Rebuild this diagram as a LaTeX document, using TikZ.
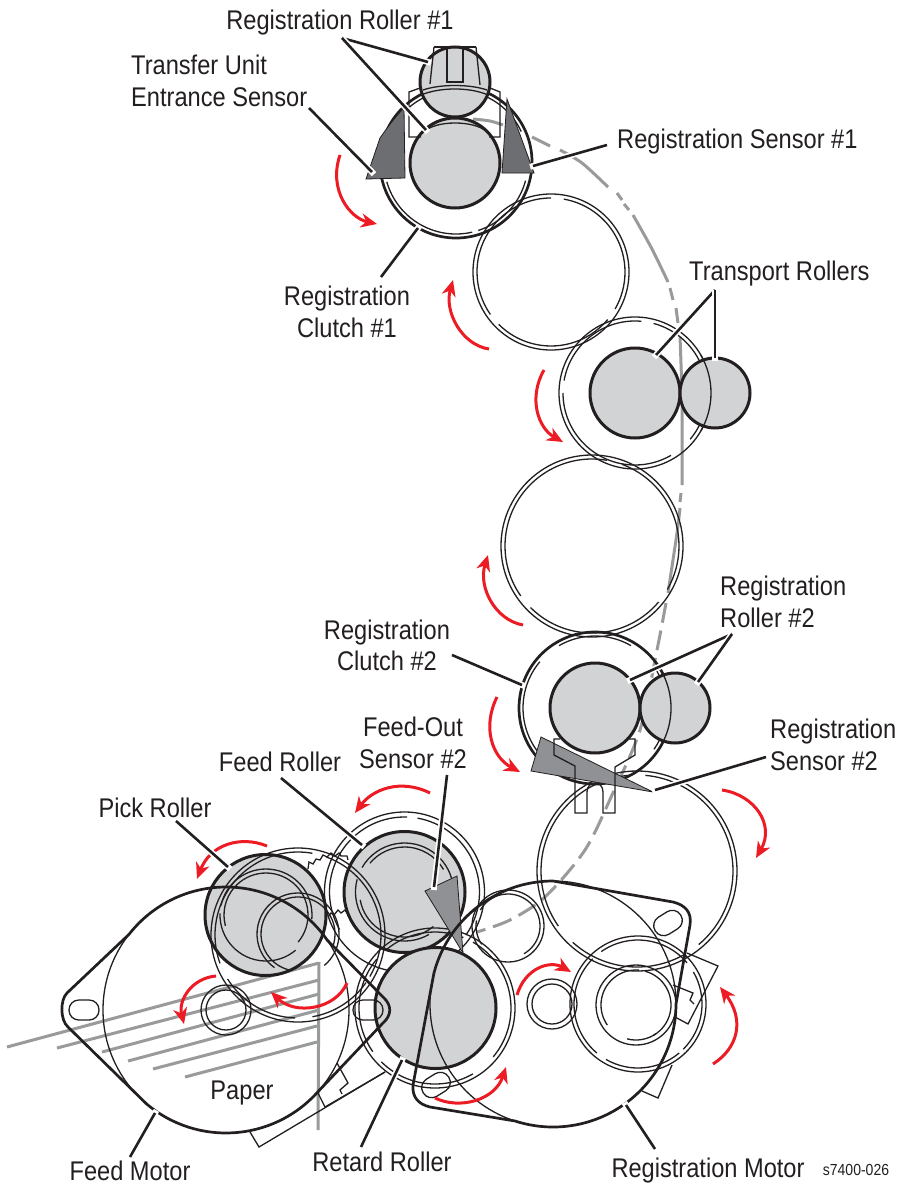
\documentclass[tikz,border=0pt]{standalone}
\usepackage{fontspec}
\setmainfont{Liberation Sans}[FakeStretch=0.875]
\usetikzlibrary{arrows.meta}
\definecolor{ink}{HTML}{231F20}
\definecolor{rollerfill}{HTML}{D1D3D4}
\definecolor{sensordark}{HTML}{6D6E71}
\definecolor{sensormid}{HTML}{8F9194}
\definecolor{pathgray}{HTML}{999A9C}
\definecolor{arrowred}{HTML}{ED1C24}
\tikzset{
  thinl/.style={draw=ink,line width=1.3pt},
  thickl/.style={draw=ink,line width=2.7pt},
  roller/.style={draw=ink,fill=rollerfill,line width=3pt},
  grayl/.style={draw=pathgray,line width=3pt},
  leader/.style={preaction={draw=white,line width=6pt,shorten >=-3pt},draw=ink,line width=2.6pt},
  redarrow/.style={draw=arrowred,line width=3pt,-{Stealth[length=16pt,width=14pt,inset=5pt]}},
  lab/.style={font=\fontsize{27}{31.5}\selectfont,text=ink,inner sep=0pt,align=center}
}
\newcommand\ringat[3]{\draw[thinl] (#1,-#2) circle (#3);}
\newcommand\garc[5]{\draw[thinl] ([shift={(#1,-#2)}]#4:#3) arc (#4:#5:#3);}
\newcommand\rollerat[3]{\draw[roller] (#1,-#2) circle (#3);}
\newcommand\holeat[3]{\draw[thinl,rounded corners=9.8pt,shift={(#1,-#2)},rotate=#3] (-15,-10) rectangle (15,10);}
\begin{document}
\begin{tikzpicture}[x=1pt,y=1pt]
\useasboundingbox (0,0) rectangle (908,-1188);
\fill[white] (0,0) rectangle (908,-1188);

% paper path
\draw[grayl] plot[smooth] coordinates {(473,-119) (490,-121) (503,-125)};
\draw[grayl] (532,-137) -- (550,-146);
\draw[grayl] plot[smooth] coordinates {(560,-150) (582,-163) (608,-187)};
\draw[grayl] (617,-193) -- (622,-200);
\draw[grayl] (624,-204) -- (629,-210);
\draw[grayl] plot[smooth] coordinates {(633,-215) (652,-249) (668,-282)};
\draw[grayl] (670,-288) -- (673,-300);
\draw[grayl] (676,-308) -- (678,-323);
\draw[grayl] plot[smooth] coordinates {(680,-337) (682,-400) (682,-485)};
\draw[grayl] (681,-493) -- (680,-502);
\draw[grayl] plot[smooth] coordinates {(680,-508) (677,-533) (668,-593)};
\draw[grayl,dash pattern=on 20pt off 8pt] plot[smooth] coordinates {(666,-603) (657,-650) (640,-730) (612,-795) (585,-850) (545,-897) (510,-920) (477,-932)};

% paper stack
\draw[grayl] (319,-962) -- (318,-1130);
\draw[grayl] (7,-1047) -- (319,-963);
\draw[grayl] (57,-1048) -- (319,-980);
\draw[grayl] (102,-1052) -- (319,-994);
\draw[grayl] (128,-1061) -- (319,-1010);
\draw[grayl] (153,-1069) -- (317,-1026);
\draw[grayl] (185,-1077) -- (317,-1042);

% --- top assembly ---
\draw[thickl] (456,-162) circle (76);
\garc{456}{162}{72}{196}{283}
\garc{456}{162}{72}{288}{345}
\garc{456}{162}{72}{25}{75}
\garc{456}{162}{72}{105}{135}
\rollerat{455}{163}{45}
\rollerat{455}{82}{35}
\draw[thinl] (434,-47) -- (476,-47);
\draw[thinl] (434,-47) -- (430,-84);
\draw[thinl] (476,-47) -- (480,-85);
\draw[thinl] (447,-47) -- (447,-82) -- (463,-82) -- (463,-47);
\draw[thinl] (421,-95) .. controls (440,-87) and (470,-87) .. (488,-95);
\draw[thinl] (423,-90) .. controls (440,-84) and (470,-84) .. (487,-90);
\draw[thinl] (420,-88) -- (409,-92) -- (409,-137) -- (421,-137);
\draw[thinl] (490,-88) -- (500,-92) -- (500,-137) -- (489,-137);
\draw[thinl] (424,-132) .. controls (435,-120) and (475,-120) .. (487,-132);
\fill[sensordark,draw=ink,line width=0.8pt] (404,-108) -- (405,-178) -- (366,-179) -- (380,-138) .. controls (387,-128) and (395,-117) .. (404,-108) -- cycle;
\fill[sensordark,draw=ink,line width=0.8pt] (507,-99) -- (534,-173) -- (502,-173) -- cycle;

% --- idlers ---
\ringat{551}{272}{78}
\garc{551}{272}{74}{-30}{80}
\garc{551}{272}{74}{90}{215}
\garc{551}{272}{74}{225}{320}
\ringat{635}{393}{76}
\garc{635}{393}{72}{-40}{75}
\garc{635}{393}{72}{85}{170}
\garc{635}{393}{72}{180}{300}
\rollerat{635}{393}{45}
\rollerat{715}{393}{35}
\draw[thinl] ([shift={(635,-393)}]30:76) arc (30:-30:76);
\ringat{592}{546}{91}
\garc{592}{546}{87}{-30}{70}
\garc{592}{546}{87}{80}{215}
\garc{592}{546}{87}{225}{320}

% --- registration roller 2 ---
\draw[thickl] (595,-708) circle (76);
\garc{595}{708}{72}{-35}{35}
\garc{595}{708}{72}{60}{120}
\garc{595}{708}{72}{140}{225}
\ringat{637}{871}{100}
\garc{637}{871}{96}{-50}{85}
\garc{637}{871}{96}{95}{215}
\garc{637}{871}{96}{228}{300}
\rollerat{595}{708}{45}
\rollerat{675}{708}{35}
\draw[thinl] ([shift={(595,-708)}]62:76) arc (62:-62:76);
\fill[sensormid,draw=ink,line width=0.8pt] (541,-737) -- (653,-792) -- (531,-771) -- cycle;
\draw[thinl] (560,-739) -- (554,-739) -- (554,-755) -- (575,-766) -- (575,-813) -- (587,-813) -- (587,-792) .. controls (587,-780) and (603,-780) .. (603,-792) -- (603,-813) -- (615,-813) -- (615,-767) -- (635,-755) -- (635,-739) -- (629,-739);

% --- bottom-left rollers ---
\fill[rollerfill] (265.5,-915) circle (60.5);
\fill[rollerfill] (404.5,-892) circle (60.5);
\ringat{404.5}{892}{80}
\garc{404.5}{892}{75}{-35}{80}
\garc{404.5}{892}{75}{88}{210}
\garc{404.5}{892}{49}{10}{150}
\garc{404.5}{892}{49}{165}{300}
\garc{404.5}{892}{45}{30}{140}
\garc{404.5}{892}{45}{190}{310}
\draw[thinl] (298,-935) circle (87);
\garc{298}{935}{83}{-30}{70}
\garc{298}{935}{83}{80}{200}
\garc{298}{935}{83}{212}{268}
\garc{298}{935}{83}{280}{325}
\garc{266}{915}{46}{-5}{168}
\garc{266}{915}{46}{178}{310}
\garc{266}{915}{42}{-40}{195}
\garc{298}{934}{41}{-50}{235}
\garc{298}{934}{37}{-20}{260}
\draw[thinl] (308,-869) -- (309,-862) -- (313,-864) -- (316,-859) -- (320,-860) -- (323,-855) -- (327,-857) -- (331,-853) -- (335,-856) -- (339,-853) -- (341,-856) -- (347,-856) -- (348,-860);
\draw[thinl] (328,-917) -- (331,-913) -- (334,-915) -- (338,-910) -- (341,-913) -- (345,-910) -- (347,-913);
\draw[roller,fill=none] (265.5,-915) circle (60.5);
\draw[roller,fill=none] (404.5,-892) circle (60.5);
\draw[thinl] (226,-1010) circle (25);
\draw[thinl] (226,-1010) circle (20);

% --- retard roller ---
\ringat{435}{1008}{80}
\garc{435}{1008}{76}{-40}{60}
\garc{435}{1008}{76}{68}{130}
\garc{435}{1008}{76}{140}{215}
\garc{435}{1008}{76}{225}{300}
\ringat{508}{926}{36}
\garc{508}{926}{32}{-60}{150}
\garc{508}{926}{32}{170}{215}
\rollerat{435.5}{1008}{60.5}
\fill[sensormid,draw=ink,line width=0.8pt] (425,-891) -- (457,-876) -- (463,-953) -- cycle;

% --- right gear ---
\draw[thinl] (552,-1004) circle (25);
\draw[thinl] (552,-1004) circle (20);
\ringat{638}{1004}{68}
\garc{638}{1004}{64}{-45}{30}
\garc{638}{1004}{64}{40}{125}
\garc{638}{1004}{64}{135}{230}
\garc{638}{1004}{64}{240}{310}
\ringat{636}{1005}{40}
\garc{636}{1005}{35}{-60}{75}
\garc{636}{1005}{35}{85}{215}
\garc{636}{1005}{35}{255}{305}
\draw[thinl] (687,-953) -- (718,-966) -- (688,-1024) -- (675,-1017);
\draw[thinl] (673,-985) -- (693,-993) -- (690,-1000) -- (694,-1004);
\draw[thinl] (642,-1091) -- (658,-1098) -- (672,-1065);

% --- left bracket ---
\draw[thinl] (250,-1132) -- (259,-1147) -- (385,-1072);
\draw[thinl] (325,-1107) -- (385,-1072);
\draw[thinl] (318,-1093) -- (325,-1107);
\draw[thinl] (337,-1063) -- (348,-1083) -- (340,-1090) -- (342,-1094);

% --- motors ---
\draw[thinl] (226,-1010) circle (123);
\draw[thickl] ([shift={(226,-1010)}]34.7:123) arc (34.7:142:123) -- (67,-993) .. controls (60,-1000) and (60,-1020) .. (68,-1027) -- ([shift={(226,-1010)}]229.7:123) arc (229.7:317.6:123) -- (383,-1023) .. controls (392,-1015) and (392,-1005) .. (383,-997) -- cycle;
\holeat{84}{1010}{0}
\holeat{368}{1010}{0}
\draw[thinl] (553,-1004) circle (123);
\draw[thickl] ([shift={(553,-1004)}]165.6:123) arc (165.6:90:123) -- (673,-902) .. controls (685,-905) and (692,-912) .. (690,-925) -- ([shift={(553,-1004)}]0:123) arc (0:-108:123) -- (430,-1107) .. controls (418,-1104) and (412,-1097) .. (413,-1085) -- cycle;
\holeat{668}{923}{32}
\holeat{436}{1085}{32}

% --- red arrows ---
\draw[redarrow] (340,-155) .. controls (328,-190) and (350,-218) .. (377,-224);
\draw[redarrow] (489,-349) .. controls (462,-345) and (444,-312) .. (453,-280);
\draw[redarrow] (544,-370) .. controls (528,-398) and (538,-428) .. (563,-442);
\draw[redarrow] (523,-625) .. controls (495,-620) and (478,-587) .. (488,-555);
\draw[redarrow] (497,-697) .. controls (482,-727) and (492,-757) .. (520,-772);
\draw[redarrow] (722,-790) .. controls (755,-795) and (775,-825) .. (756,-858);
\draw[redarrow] (430,-793) .. controls (400,-778) and (372,-790) .. (355,-813);
\draw[redarrow] (267,-846) .. controls (240,-835) and (210,-845) .. (197,-879);
\draw[redarrow] (216,-976) .. controls (192,-978) and (178,-1000) .. (184,-1024);
\draw[redarrow] (347,-983) .. controls (335,-1010) and (295,-1015) .. (271,-992);
\draw[redarrow] (435,-1098) .. controls (460,-1110) and (495,-1100) .. (506,-1067);
\draw[redarrow] (517,-995) .. controls (525,-968) and (550,-960) .. (571,-972);
\draw[redarrow] (713,-1064) .. controls (738,-1048) and (745,-1020) .. (720,-987);

% --- labels ---
\node[lab] (lregone) at (340,-23) {Registration Roller \#1};
\node[lab,align=left,anchor=west] (ltue) at (131,-81) {Transfer Unit\\Entrance Sensor};
\node[lab,anchor=west] (lsenone) at (617,-141.5) {Registration Sensor \#1};
\node[lab] (lclutchone) at (347,-312) {Registration\\Clutch \#1};
\node[lab,anchor=west] (ltrans) at (689,-273.5) {Transport Rollers};
\node[lab,align=left,anchor=west] (lregtwo) at (720,-602) {Registration\\Roller \#2};
\node[lab] (lclutchtwo) at (387,-645.5) {Registration\\Clutch \#2};
\node[lab,align=left,anchor=west] (lsentwo) at (770,-745) {Registration\\Sensor \#2};
\node[lab] (lfeedout) at (413,-743) {Feed-Out\\Sensor \#2};
\node[lab] (lfeed) at (280,-762) {Feed Roller};
\node[lab] (lpick) at (155,-808) {Pick Roller};
\node[lab] (lpaper) at (242,-1093) {Paper};
\node[lab] (lfmotor) at (130,-1171) {Feed Motor};
\node[lab] (lretard) at (382,-1162) {Retard Roller};
\node[lab] (lrmotor) at (708,-1171) {Registration Motor};
\node[text=ink,inner sep=0pt,font=\fontsize{16}{18}\selectfont] (lcode) at (856,-1170) {s7400-026};

% --- leaders ---
\coordinate (aregone) at (342,-38);
\coordinate (tregonea) at (428,-62);
\coordinate (tregoneb) at (426,-130);
\coordinate (stue) at (309,-108);
\coordinate (ttue) at (372,-172);
\coordinate (ssenone) at (607,-145);
\coordinate (tsenone) at (533,-166);
\coordinate (sclone) at (381,-277);
\coordinate (tclone) at (418,-228);
\coordinate (atrans) at (715,-290);
\coordinate (ttransa) at (656,-355);
\coordinate (ttransb) at (715,-358);
\coordinate (aregtwo) at (732,-634);
\coordinate (tregtwoa) at (630,-680);
\coordinate (tregtwob) at (698,-682);
\coordinate (scltwo) at (452,-655);
\coordinate (tcltwo) at (522,-685);
\coordinate (ssentwo) at (766,-757);
\coordinate (tsentwo) at (655,-790);
\coordinate (sfeedout) at (447,-775);
\coordinate (tfeedout) at (434,-887);
\coordinate (sfeed) at (281,-778);
\coordinate (tfeed) at (362,-845);
\coordinate (spick) at (176,-821);
\coordinate (tpick) at (228,-867);
\coordinate (sfmotor) at (130,-1157);
\coordinate (tfmotor) at (155,-1113);
\coordinate (sretard) at (361,-1147);
\coordinate (tretard) at (402,-1060);
\coordinate (srmotor) at (655,-1149);
\coordinate (trmotor) at (626,-1105);
\draw[leader] (aregone) -- (tregonea);
\draw[leader] (aregone) -- (tregoneb);
\draw[leader] (stue) -- (ttue);
\draw[leader] (ssenone) -- (tsenone);
\draw[leader] (sclone) -- (tclone);
\draw[leader] (atrans) -- (ttransa);
\draw[leader] (atrans) -- (ttransb);
\draw[leader] (aregtwo) -- (tregtwoa);
\draw[leader] (aregtwo) -- (tregtwob);
\draw[leader] (scltwo) -- (tcltwo);
\draw[leader] (ssentwo) -- (tsentwo);
\draw[leader] (sfeedout) -- (tfeedout);
\draw[leader] (sfeed) -- (tfeed);
\draw[leader] (spick) -- (tpick);
\draw[leader] (sfmotor) -- (tfmotor);
\draw[leader] (sretard) -- (tretard);
\draw[leader] (srmotor) -- (trmotor);
\end{tikzpicture}
\end{document}
